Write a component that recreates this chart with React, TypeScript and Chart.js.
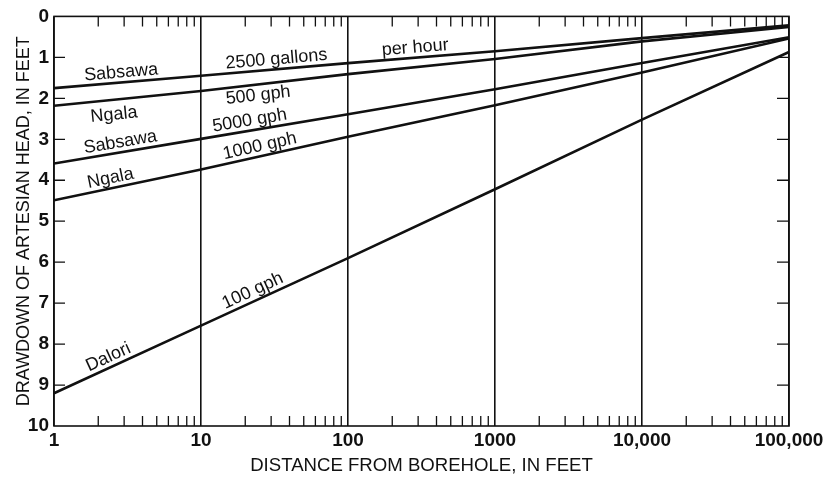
import React, { useEffect, useRef } from "react";
import { Chart, registerables } from "chart.js";
Chart.register(...registerables);

// ---- data ----
const distances = [1, 10, 100, 1000, 10000, 100000];
const sabsawa2500 = [1.75, 1.45, 1.14, 0.85, 0.53, 0.22];
const ngala500 = [2.18, 1.82, 1.41, 1.04, 0.61, 0.26];
const sabsawa5000 = [3.59, 2.99, 2.39, 1.78, 1.14, 0.51];
const ngala1000 = [4.49, 3.74, 2.94, 2.17, 1.37, 0.54];
const dalori100 = [9.2, 7.55, 5.9, 4.22, 2.52, 0.87];
const seriesList = [sabsawa2500, ngala500, sabsawa5000, ngala1000, dalori100];

const xTickValues = [1, 10, 100, 1000, 10000, 100000];
const xTickLabels = ["1", "10", "100", "1000", "10,000", "100,000"];
const yMin = 0;
const yMax = 10;

const labelTexts = ["Sabsawa", "2500 gallons", "per hour", "Ngala", "500 gph", "5000 gph", "Sabsawa", "1000 gph", "Ngala", "100 gph", "Dalori"];
const labelSeries = [0, 0, 0, 1, 1, 2, 2, 3, 3, 4, 4];
const labelAt = [2.9, 33, 290, 2.5, 24, 22, 2.9, 26, 2.5, 24, 2.5];
const labelSide = ["above", "above", "above", "below", "below", "above", "above", "above", "above", "above", "above"];

const FONT = "'Liberation Sans', Arial, Helvetica, sans-serif";
const INK = "#111";

function interpLog(xs: number[], ys: number[], v: number) {
  const lv = Math.log10(v);
  for (let i = 0; i < xs.length - 1; i++) {
    const a = Math.log10(xs[i]);
    const b = Math.log10(xs[i + 1]);
    if (lv >= a && lv <= b) {
      const t = (lv - a) / (b - a);
      return { y: ys[i] + t * (ys[i + 1] - ys[i]), i };
    }
  }
  return { y: ys[ys.length - 1], i: xs.length - 2 };
}

const decorPlugin = {
  id: "decor",
  afterDatasetsDraw(chart: any) {
    const { ctx, chartArea, scales } = chart;
    const { left, right, top, bottom } = chartArea;
    const x = scales.x;
    const y = scales.y;
    ctx.save();
    ctx.strokeStyle = INK;
    ctx.lineWidth = 1.6;
    ctx.strokeRect(left, top, right - left, bottom - top);
    ctx.lineWidth = 1.3;
    // minor log ticks, inward, top and bottom
    for (let d = 1; d < 100000; d *= 10) {
      for (let m = 2; m <= 9; m++) {
        const px = x.getPixelForValue(m * d);
        ctx.beginPath();
        ctx.moveTo(px, bottom);
        ctx.lineTo(px, bottom - 10);
        ctx.moveTo(px, top);
        ctx.lineTo(px, top + 10);
        ctx.stroke();
      }
    }
    // y ticks inward, left and right
    for (let v = yMin + 1; v < yMax; v++) {
      const py = y.getPixelForValue(v);
      ctx.beginPath();
      ctx.moveTo(left, py);
      ctx.lineTo(left + 11, py);
      ctx.moveTo(right - 12, py);
      ctx.lineTo(right, py);
      ctx.stroke();
    }
    // line labels
    ctx.fillStyle = INK;
    ctx.font = `18px ${FONT}`;
    ctx.textAlign = "center";
    for (let k = 0; k < labelTexts.length; k++) {
      const ys = seriesList[labelSeries[k]];
      const { y: yv, i } = interpLog(distances, ys, labelAt[k]);
      const px = x.getPixelForValue(labelAt[k]);
      const py = y.getPixelForValue(yv);
      const x0 = x.getPixelForValue(distances[i]);
      const x1 = x.getPixelForValue(distances[i + 1]);
      const y0 = y.getPixelForValue(ys[i]);
      const y1 = y.getPixelForValue(ys[i + 1]);
      const ang = Math.atan2(y1 - y0, x1 - x0);
      ctx.save();
      ctx.translate(px, py);
      ctx.rotate(ang);
      if (labelSide[k] === "above") {
        ctx.textBaseline = "alphabetic";
        ctx.fillText(labelTexts[k], 0, -5);
      } else {
        ctx.textBaseline = "top";
        ctx.fillText(labelTexts[k], 0, labelTexts[k] === "Ngala" ? 6 : 2);
      }
      ctx.restore();
    }
    ctx.restore();
  },
};

export default function App() {
  const ref = useRef<HTMLCanvasElement | null>(null);
  useEffect(() => {
    document.body.style.margin = "0";
    const canvas = ref.current!;
    const chart = new Chart(canvas, {
      type: "line",
      data: {
        datasets: seriesList.map((s) => ({
          data: distances.map((d, i) => ({ x: d, y: s[i] })),
          borderColor: INK,
          borderWidth: 2.6,
          pointRadius: 0,
          tension: 0,
          fill: false,
        })),
      },
      options: {
        animation: false,
        responsive: false,
        devicePixelRatio: 1,
        layout: { padding: { top: 14, right: 43, left: 0, bottom: 0 } },
        plugins: { legend: { display: false }, tooltip: { enabled: false } },
        scales: {
          x: {
            type: "logarithmic",
            min: 1,
            max: 100000,
            afterBuildTicks: (scale: any) => {
              scale.ticks = xTickValues.map((v) => ({ value: v }));
            },
            afterFit: (scale: any) => {
              scale.height = 51;
            },
            grid: {
              display: true,
              drawTicks: false,
              color: INK,
              lineWidth: 1.6,
            },
            border: { display: false },
            ticks: {
              autoSkip: false,
              maxRotation: 0,
              padding: 3,
              color: INK,
              font: { family: FONT, size: 19, weight: "bold" },
              callback: (v: any) => {
                const idx = xTickValues.indexOf(Number(v));
                return idx >= 0 ? xTickLabels[idx] : "";
              },
            },
            title: {
              display: true,
              text: "DISTANCE FROM BOREHOLE, IN FEET",
              color: INK,
              font: { family: FONT, size: 18.6 },
              padding: { top: 0, bottom: 0 },
            },
          },
          y: {
            type: "linear",
            min: yMin,
            max: yMax,
            reverse: true,
            afterFit: (scale: any) => {
              scale.width = 54;
            },
            grid: { display: false, drawTicks: false },
            border: { display: false },
            ticks: {
              stepSize: 1,
              padding: 5,
              color: INK,
              font: { family: FONT, size: 19, weight: "bold" },
            },
            title: {
              display: true,
              text: "DRAWDOWN OF ARTESIAN HEAD, IN FEET",
              color: INK,
              font: { family: FONT, size: 18 },
              padding: { top: 13, bottom: 0 },
            },
          },
        },
      } as any,
      plugins: [decorPlugin],
    });
    return () => chart.destroy();
  }, []);
  return (
    <div style={{ width: 832, height: 477, background: "#fff" }}>
      <canvas ref={ref} width={832} height={477} style={{ display: "block", width: 832, height: 477 }} />
    </div>
  );
}
